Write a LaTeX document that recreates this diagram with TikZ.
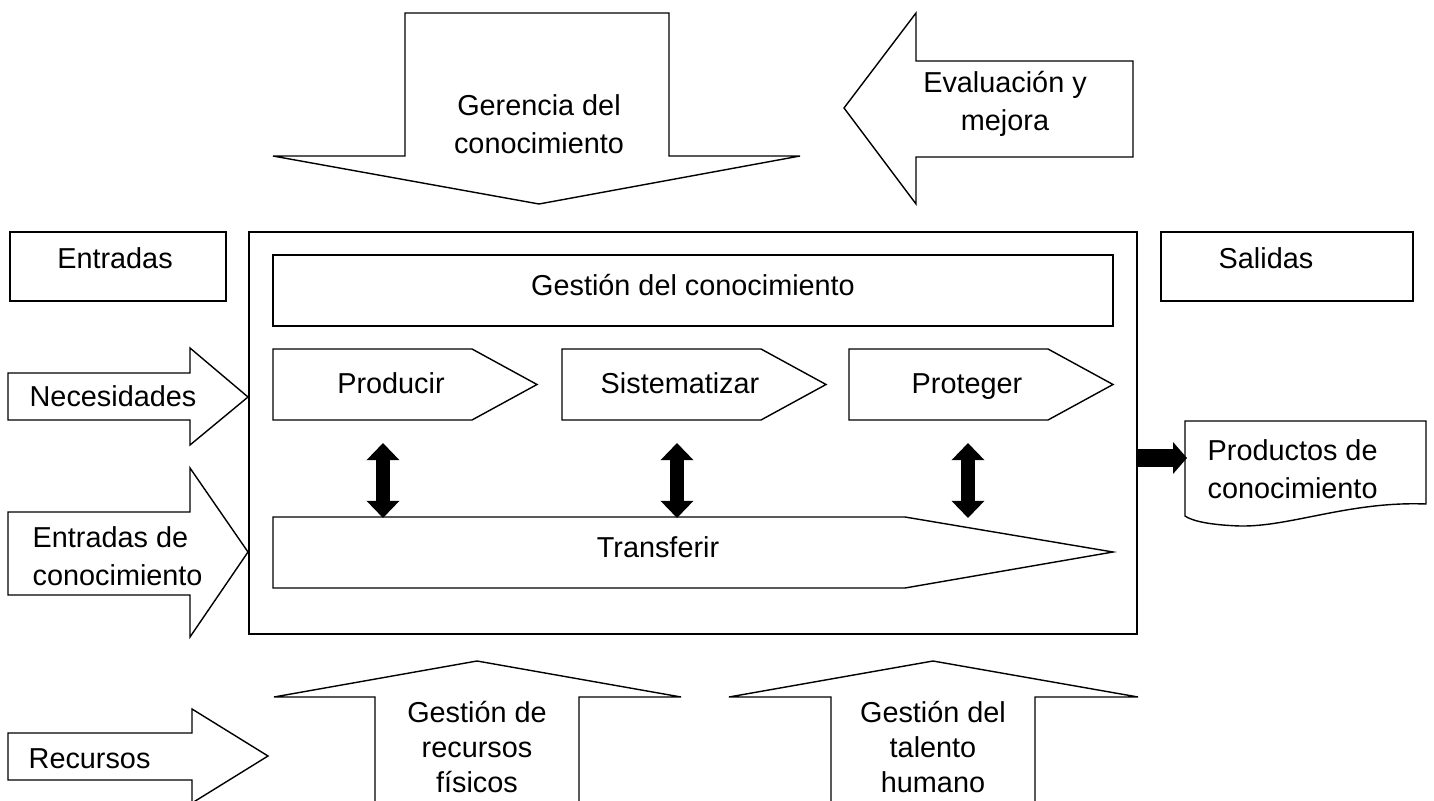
\documentclass[tikz,border=0pt]{standalone}
\usepackage{fontspec}
\setmainfont{Liberation Sans}
\usetikzlibrary{arrows.meta}

\begin{document}
\begin{tikzpicture}[x=0.025cm, y=-0.025cm, line width=1pt,
    lbl/.style={align=center, inner sep=0pt, font=\fontsize{20.5}{27}\selectfont},
    lbltight/.style={lbl, font=\fontsize{20.5}{25}\selectfont},
    fat/.style={line width=0.43cm, -{Triangle[width=0.78cm, length=0.35cm]}},
    fatboth/.style={line width=0.33cm,
        {Triangle[width=0.8cm, length=0.43cm]}-{Triangle[width=0.8cm, length=0.43cm]}}]
    \useasboundingbox (0,0) rectangle (1434,801);
    % top
    \draw (405,13) -- (669,13) -- (669,156) -- (800,156) -- (539,204) -- (273,156) -- (405,156) -- cycle;
    \node[lbl] (geren) at (539,124) {Gerencia del\\conocimiento};
    \draw (844,108) -- (916,13) -- (916,61) -- (1133,61) -- (1133,157) -- (916,157) -- (916,204) -- cycle;
    \node[lbl] (evalu) at (1005,104) {Evaluación y\\mejora};
    % side boxes
    \draw (10,232) rectangle (226,301);
    \node[lbl, anchor=base] (entr) at (115,268) {Entradas};
    \draw (1161,232) rectangle (1413,301);
    \node[lbl, anchor=base] (sal) at (1266,268) {Salidas};
    % process
    \draw (249,232) rectangle (1137,634);
    \draw (273,255) rectangle (1113,326);
    \node[lbl, anchor=base] (gest) at (693,295) {Gestión del conocimiento};
    \foreach \x/\t/\n in {273/Producir/produc, 562/Sistematizar/sistem, 849/Proteger/proteg} {
        \draw (\x,349) -- ++(199,0) -- ++(65,35.5) -- ++(-65,35.5) -- ++(-199,0) -- cycle;
        \node[lbl, anchor=base] (\n) at (\x+118,393) {\t};
    }
    \draw (273,517) -- (905,517) -- (1113,552) -- (905,588) -- (273,588) -- cycle;
    \node[lbl, anchor=base] (trans) at (658,557) {Transferir};
    \foreach \x [count=\i] in {383,677,968} {
        \coordinate (up\i) at (\x,443);
        \coordinate (dn\i) at (\x,518);
        \draw[fatboth] (up\i) -- (dn\i);
    }
    % in
    \draw (8,373) -- (190,373) -- (190,348) -- (248,397) -- (190,445) -- (190,420) -- (8,420) -- cycle;
    \node[lbl, anchor=base] (neces) at (113,406) {Necesidades};
    \draw (8,512) -- (190,512) -- (190,468) -- (248,552) -- (190,637) -- (190,595) -- (8,595) -- cycle;
    \node[lbl, align=left, anchor=west] (entrcon) at (32,556) {Entradas de\\conocimiento};
    \draw (8,733) -- (192,733) -- (192,709) -- (268,756) -- (192,803) -- (192,780) -- (8,780) -- cycle;
    \node[lbl, anchor=base west] (recur) at (28,768) {Recursos};
    % under
    \draw (375,805) -- (375,697) -- (274,697) -- (477,661) -- (681,697) -- (579,697) -- (579,805);
    \node[lbltight] (fisic) at (477,747) {Gestión de\\recursos\\físicos};
    \draw (831,805) -- (831,697) -- (729,697) -- (933,661) -- (1138,697) -- (1035,697) -- (1035,805);
    \node[lbltight] (talen) at (933,747) {Gestión del\\talento\\humano};
    % out
    \draw (1185,421) -- (1426,421) -- (1426,504)
        .. controls (1350,501) and (1290,527) .. (1240,526)
        .. controls (1210,525) and (1192,521) .. (1185,516) -- cycle;
    \node[lbl, align=left, anchor=west] (produc2) at (1207,469) {Productos de\\conocimiento};
    \coordinate (boxe) at (1137,458);
    \coordinate (doce) at (1187,458);
    \draw[fat] (boxe) -- (doce);
\end{tikzpicture}
\end{document}
